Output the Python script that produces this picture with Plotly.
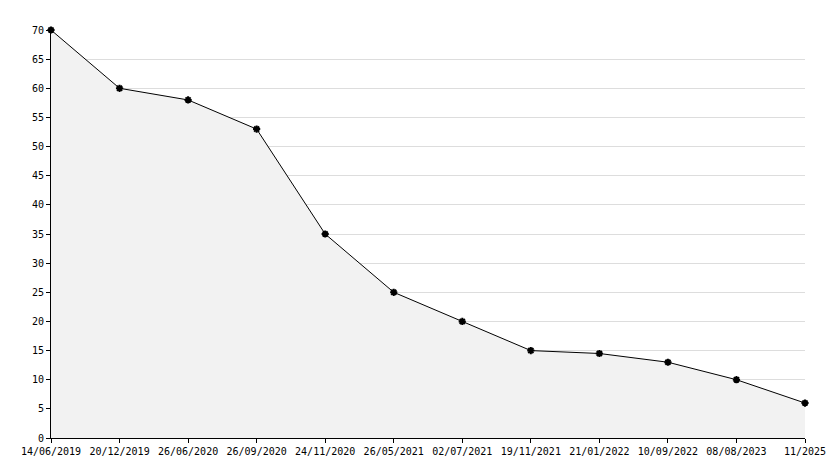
import plotly.graph_objects as go

dates = ["14/06/2019","20/12/2019","26/06/2020","26/09/2020","24/11/2020","26/05/2021",
         "02/07/2021","19/11/2021","21/01/2022","10/09/2022","08/08/2023","11/2025"]
values = [70, 60, 58, 53, 35, 25, 20, 15, 14.5, 13, 10, 6]
idx = list(range(len(dates)))

fig = go.Figure(go.Scatter(
    x=idx, y=values, mode="lines+markers", fill="tozeroy", fillcolor="#f2f2f2",
    line=dict(color="black", width=1), cliponaxis=False,
    marker=dict(symbol="asterisk", size=6, color="black", line=dict(color="black", width=2)),
))
fig.update_layout(
    width=834, height=468, plot_bgcolor="white", paper_bgcolor="white",
    margin=dict(l=43, r=37, t=22, b=38), showlegend=False,
    font=dict(family="DejaVu Sans Mono", size=10, color="black"),
)
fig.update_xaxes(range=[0, 11], tickvals=idx, ticktext=dates, showgrid=False, automargin=False,
                 showline=True, linecolor="black", ticks="outside", ticklen=4,
                 tickcolor="black", zeroline=False)
fig.update_yaxes(range=[0, 70], dtick=5, showgrid=True, gridcolor="#dddddd", automargin=False,
                 showline=True, linecolor="black", ticks="outside", ticklen=4,
                 tickcolor="black", zeroline=False)
fig.write_html("out.html")
